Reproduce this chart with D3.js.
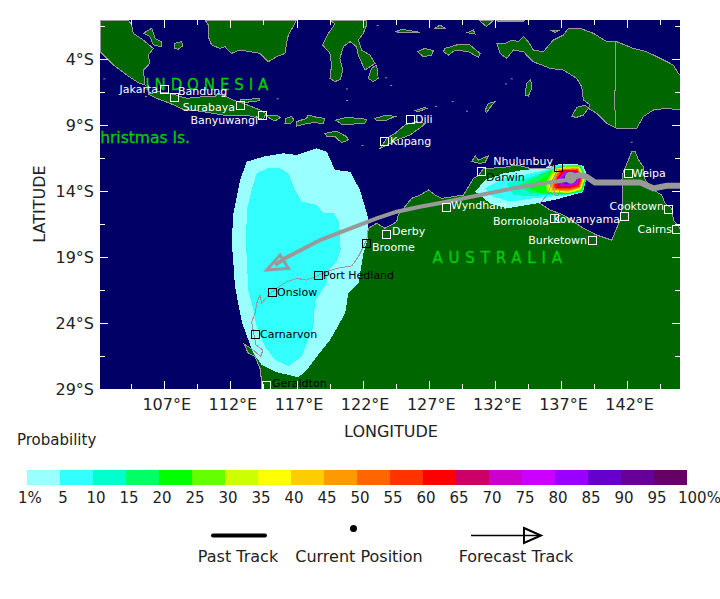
<!DOCTYPE html>
<html>
<head>
<meta charset="utf-8">
<script src="https://cdn.jsdelivr.net/npm/d3@7"></script>
<style>
  html, body { margin: 0; padding: 0; background: #fff; }
  svg { display: block; font-family: "DejaVu Sans", sans-serif; }
</style>
</head>
<body>
<svg id="chart" width="720" height="599"></svg>
<script>
// legend
var legendLabels = ["1%", "5", "10", "15", "20", "25", "30", "35", "40", "45", "50", "55", "60", "65", "70", "75", "80", "85", "90", "95", "100%"];
var legendColors = ["#99ffff", "#33ffff", "#00ffcc", "#00ff66", "#00ff00", "#66ff00", "#ccff00", "#ffff00", "#ffcc00", "#ff9900", "#ff6600", "#ff3300", "#ff0000", "#cc0066", "#cc00cc", "#cc00ff", "#9900ff", "#6600cc", "#660099", "#660066"];

// axis ticks
var lonMajor = [107, 112, 117, 122, 127, 132, 137, 142];
var lonMinor = [104.5, 109.5, 114.5, 119.5, 124.5, 129.5, 134.5, 139.5, 144.5];
var latMajor = [-4, -9, -14, -19, -24, -29];
var latMinor = [-1.5, -6.5, -11.5, -16.5, -21.5, -26.5];

// land, all as [lon, lat]
var sumatra = [[102.14,-1.05],[104.28,-1.05],[104.53,-1.43],[104.66,-2.06],[105.42,-2.57],[106.17,-3.2],[105.79,-3.7],[105.92,-4.33],[105.42,-4.84],[105.54,-5.97],[105.04,-5.8],[104.16,-5.21],[103.15,-4.46],[102.14,-3.45]];
var bangka = [[105.42,-2.06],[106.05,-1.68],[106.3,-2.44],[106.8,-2.69],[106.8,-3.07],[106.17,-2.94],[105.92,-2.31]];
var belitung = [[107.81,-2.82],[108.31,-2.69],[108.39,-3.02],[108.06,-3.27],[107.81,-3.2]];
var borneo = [[110.08,-1.05],[110.33,-1.43],[110.33,-2.31],[110.58,-2.94],[111.21,-3.2],[111.59,-3.07],[112.09,-3.58],[112.72,-3.32],[113.48,-3.45],[114.24,-3.58],[114.87,-4.21],[115.5,-3.83],[116.13,-3.58],[116.25,-2.82],[116.38,-2.19],[116.88,-1.3],[117.01,-1.05]];
var sulawesi = [[119.53,-1.05],[119.91,-1.35],[119.33,-2.19],[118.97,-2.94],[119.53,-3.58],[119.65,-4.46],[119.53,-5.47],[119.91,-5.72],[120.33,-5.54],[120.49,-4.84],[120.28,-3.95],[120.54,-3.07],[121.04,-2.69],[121.54,-3.07],[121.67,-3.7],[122.17,-4.84],[122.93,-4.33],[122.55,-3.7],[121.92,-3.32],[121.67,-2.57],[122.05,-2.06],[122.3,-1.43],[122.3,-1.05]];
var buton = [[122.68,-4.71],[123.06,-4.46],[123.18,-5.47],[122.8,-5.72],[122.43,-5.47]];
var java = [[105.79,-6.66],[106.55,-6.48],[107.43,-6.6],[108.69,-6.98],[109.95,-6.86],[110.83,-6.86],[111.09,-6.6],[112.22,-7.11],[112.98,-7.36],[114.24,-7.87],[114.69,-8.12],[114.49,-8.57],[113.23,-8.25],[111.46,-8.25],[109.95,-7.99],[108.44,-7.82],[107.43,-7.36],[106.42,-6.98]];
var madura = [[112.72,-7.11],[114.24,-6.98],[114.19,-7.16],[112.98,-7.31]];
var bali = [[114.74,-8.32],[115.5,-8.25],[115.8,-8.42],[115.37,-8.7],[114.99,-8.5]];
var lombok = [[116.2,-8.5],[116.63,-8.37],[116.81,-8.63],[116.5,-8.93],[116.13,-8.88]];
var sumbawa = [[117.01,-8.75],[117.76,-8.5],[117.89,-8.25],[118.52,-8.42],[119.15,-8.5],[119.02,-8.88],[118.27,-8.83],[117.64,-8.93],[117.01,-9.08]];
var flores = [[119.96,-8.63],[120.79,-8.42],[122.3,-8.57],[122.17,-8.88],[121.29,-8.93],[120.41,-8.95]];
var alor = [[122.93,-8.5],[123.81,-8.25],[124.44,-8.37],[123.81,-8.63],[123.06,-8.68]];
var sumba = [[119.15,-9.64],[120.03,-9.46],[120.79,-9.89],[120.91,-10.14],[120.41,-10.34],[119.91,-9.89],[119.28,-9.84]];
var timor = [[123.32,-10.77],[123.82,-10.01],[124.45,-9.64],[125.21,-9.0],[126.09,-8.75],[126.72,-8.88],[126.47,-9.13],[125.59,-9.76],[124.58,-10.14],[123.82,-10.52]];
var wetar = [[125.97,-7.92],[126.72,-7.67],[126.85,-7.74],[126.22,-7.99]];
var seram = [[128.23,-3.2],[129.12,-2.94],[130.12,-2.94],[130.88,-3.58],[130.75,-3.88],[130,-3.45],[128.99,-3.32],[128.49,-3.7],[128.11,-3.45]];
var buru = [[126.14,-3.45],[126.72,-3.2],[127.35,-3.37],[127.23,-3.7],[126.6,-3.83]];
var sula = [[124.45,-1.93],[124.96,-1.76],[126.34,-1.98],[124.96,-2.01]];
var obi = [[127.48,-1.68],[127.86,-1.43],[128.23,-1.68]];
var misool = [[129.92,-2.01],[130.38,-1.81],[130.5,-2.11]];
var waigeo = [[130.8,-1.05],[131.89,-1.05],[131.38,-1.55],[131.13,-1.35]];
var biak = [[136.17,-1.81],[136.93,-1.81],[136.55,-1.98]];
var manokwari = [[132.14,-1.05],[134.28,-1.05],[134.16,-1.15],[132.19,-1.15]];
var newGuinea = [[132.14,-2.82],[132.77,-2.82],[133.27,-2.57],[133.78,-2.69],[134.16,-2.31],[134.53,-2.69],[134.91,-3.32],[135.67,-3.45],[136.42,-2.57],[137.18,-2.19],[137.56,-1.68],[138.44,-1.68],[139.45,-2.06],[140.46,-2.69],[141.21,-2.69],[142.47,-3.2],[143.48,-3.45],[144.49,-3.95],[145.5,-4.46],[145.87,-5.09],[146,-5.22],[146,-7.87],[144.99,-7.74],[143.98,-7.87],[143.23,-8.37],[142.72,-9.26],[141.21,-9.26],[140.46,-8.88],[139.7,-8.12],[139.07,-7.74],[139.2,-7.49],[138.69,-7.11],[138.57,-6.1],[138.19,-5.47],[137.18,-4.84],[136.17,-4.71],[134.91,-4.21],[134.16,-3.45],[133.4,-3.32],[132.9,-3.95],[132.39,-3.58]];
var dolak = [[137.81,-8.37],[138.19,-7.67],[138.82,-7.49],[139.07,-7.74],[138.69,-8.25],[138.19,-8.42]];
var aru = [[134.28,-6.73],[134.41,-5.85],[134.71,-5.54],[134.79,-6.23],[134.53,-6.81]];
var tanimbar = [[131.26,-7.92],[131.51,-7.36],[132.01,-7.24],[131.64,-7.67],[131.38,-8.07]];
var tiwi = [[130.26,-11.78],[130.51,-11.33],[130.76,-11.66],[131.52,-11.33],[131.26,-11.83],[130.89,-11.91]];
var groote = [[136.43,-13.8],[136.93,-13.93],[136.81,-14.31],[136.55,-14.31]];
var australia = [[114.37,-29.1],[114.29,-27.56],[113.87,-26.55],[113.36,-26.3],[113.03,-25.59],[113.74,-26.05],[114.29,-26.55],[114.45,-26.05],[113.94,-25.67],[113.74,-24.66],[113.61,-23.9],[113.87,-23.27],[113.99,-22.51],[114.24,-21.88],[114.37,-22.51],[114.87,-21.88],[115.5,-21.38],[116.26,-20.87],[117.02,-20.62],[117.77,-20.75],[118.4,-20.5],[119.28,-20.11],[120.04,-19.86],[121.17,-19.68],[121.68,-18.98],[122.06,-18.22],[122.31,-17.72],[122.43,-16.83],[123.06,-16.45],[123.69,-16.83],[124.58,-16.33],[124.7,-15.82],[125.2,-15.19],[125.71,-14.56],[126.35,-14.31],[126.98,-13.93],[127.48,-14.31],[127.99,-14.56],[129.63,-14.31],[130,-13.68],[130.38,-13.05],[130.76,-12.84],[131.14,-12.29],[132.52,-12.24],[133.66,-12.03],[134.66,-12.29],[136.18,-12.29],[136.55,-12.03],[136.68,-12.54],[136.3,-13.3],[136.05,-14.18],[135.42,-14.94],[136.18,-15.44],[137.18,-15.82],[138.7,-16.83],[139.7,-17.34],[140.84,-17.72],[141.47,-16.2],[141.67,-14.69],[141.6,-13.17],[141.67,-12.67],[142.1,-11.65],[142.35,-11.02],[142.61,-11.02],[142.86,-11.65],[143.24,-12.16],[143.36,-13.17],[143.99,-13.93],[144.62,-14.31],[144.87,-14.94],[145.38,-15.32],[145.5,-16.2],[146,-16.83],[146,-29.1]];
var landShapes = [sumatra, bangka, belitung, borneo, sulawesi, buton, java, madura, bali, lombok, sumbawa, flores, alor, sumba, timor, wetar, seram, buru, sula, obi, misool, waigeo, biak, manokwari, newGuinea, dolak, aru, tanimbar, tiwi, groote, australia];
var pngBorder = [[141.14,-2.69],[141.14,-6.35],[141.01,-6.48],[141.16,-9.26]];
var islets = [[102.39,-5.47],[105.54,-6.81],[115.5,-6.98],[120.74,-6.23],[120.74,-7.11],[121.92,-10.52],[123.06,-1.43],[124.57,-1.93],[123.7,-5.39],[124.08,-5.97],[128.74,-7.19],[129.82,-7.92],[127.48,-7.56],[142.27,-10.27],[132.77,-5.85],[133.2,-5.47]];

// probability areas, lowest level first
var west1 = [[118.53,-10.77],[119.28,-11.02],[119.91,-12.41],[121.05,-12.54],[121.8,-13.93],[122.43,-16.07],[122.43,-17.46],[122.06,-18.73],[121.68,-21],[120.92,-21.76],[120.67,-23.27],[119.54,-25.29],[118.53,-26.55],[117.77,-27.56],[117.14,-28.12],[115.38,-27.69],[114.37,-27.18],[113.74,-26.3],[113.36,-25.29],[112.86,-23.9],[112.35,-21.25],[112.1,-17.72],[112.23,-15.7],[112.73,-13.17],[113.24,-11.78],[114.5,-11.4],[116.01,-11.15],[117.02,-11.28]];
var west5 = [[115.76,-12.29],[116.39,-12.67],[116.89,-13.93],[117.39,-14.81],[118.53,-15.06],[119.03,-15.7],[119.79,-15.64],[120.22,-16.33],[120.34,-18.47],[120.04,-19.36],[119.33,-20.11],[119.28,-21],[118.4,-22.39],[118.28,-24.28],[117.39,-26.55],[116.39,-27.26],[115.38,-26.81],[114.62,-25.8],[113.99,-24.28],[113.74,-23.02],[113.36,-21.5],[113.19,-18.22],[113.24,-15.44],[113.61,-13.93],[113.99,-12.67],[114.75,-12.29]];
var east1 = [[130.51,-14.05],[131.26,-13.17],[132.65,-12.67],[134.16,-12.41],[135.67,-12.29],[136.68,-12],[137.94,-11.92],[138.7,-12.1],[139,-12.9],[138.82,-13.42],[138.6,-14.1],[137.44,-14.43],[136.43,-14.69],[135.17,-14.94],[132.9,-15.32],[131.64,-14.94]];
var east5 = [[131.26,-13.8],[132.65,-13.04],[134.16,-12.79],[135.67,-12.45],[136.68,-12.05],[137.94,-12],[138.6,-12.1],[138.94,-13],[138.66,-14.1],[137.18,-14.36],[136.18,-14.43],[134.92,-14.56],[133.15,-14.81],[131.89,-14.43]];
var east10 = [[132.9,-13.42],[134.41,-13.04],[135.67,-12.6],[136.81,-12.12],[137.94,-12.04],[138.52,-12.05],[138.92,-13],[138.62,-14.06],[137.06,-14.3],[136.05,-14.31],[134.66,-14.38],[133.4,-14.31]];
var east15 = [[133.78,-13.55],[134.92,-13.04],[135.92,-12.5],[137,-12.15],[138,-12.07],[138.48,-12.07],[138.9,-13],[138.58,-14.02],[137.57,-14.26],[135.92,-14.25],[134.66,-14.13]];
var east20 = [[134.4,-13.5],[135.4,-13.2],[136.31,-12.45],[137.44,-12.1],[138.44,-12.1],[138.88,-13],[138.55,-13.98],[137.57,-14.22],[136.56,-14.25],[135.5,-14.15],[134.8,-13.95]];
var east25 = [[135.8,-13.43],[136.43,-12.31],[137.44,-12.13],[138.4,-12.13],[138.86,-13],[138.52,-13.94],[137.57,-14.18],[135.95,-14.1]];
var east30 = [[135.95,-13.43],[136.56,-12.33],[137.44,-12.16],[138.36,-12.16],[138.83,-13],[138.5,-13.9],[137.57,-14.14],[136.05,-14.06]];
var east35 = [[136.05,-13.43],[136.66,-12.35],[137.44,-12.19],[138.33,-12.19],[138.78,-13],[138.47,-13.85],[137.57,-14.1],[136.16,-14.02]];
var east40 = [[136.16,-13.43],[136.73,-12.37],[137.44,-12.21],[138.3,-12.21],[138.72,-13],[138.45,-13.81],[137.57,-14.06],[136.26,-13.98]];
var east45 = [[136.26,-13.43],[136.81,-12.37],[138.27,-12.26],[138.67,-13],[138.42,-13.75],[137.57,-14.01],[136.31,-13.93]];
var east50 = [[136.36,-13.4],[136.91,-12.39],[138.25,-12.32],[138.62,-13],[138.4,-13.7],[137.57,-13.96],[136.41,-13.88]];
var east55 = [[136.46,-13.35],[137.01,-12.42],[138.22,-12.37],[138.57,-13],[138.37,-13.65],[137.57,-13.88],[136.51,-13.81]];
var east60 = [[136.56,-13.3],[137.11,-12.44],[138.2,-12.42],[138.52,-13],[138.32,-13.6],[137.57,-13.81],[136.61,-13.75]];
var east65 = [[136.71,-13.1],[137.21,-12.49],[138.17,-12.49],[138.47,-13],[138.27,-13.55],[137.57,-13.7],[136.81,-13.65]];
var east70 = [[136.81,-13.05],[137.26,-12.54],[138.15,-12.54],[138.42,-13],[138.22,-13.5],[137.57,-13.65],[136.91,-13.6]];
var east75 = [[136.91,-13],[137.31,-12.59],[138.12,-12.59],[138.37,-13],[138.17,-13.45],[137.57,-13.6],[137.01,-13.55]];
var east80 = [[137.01,-13],[137.36,-12.64],[138.07,-12.64],[138.32,-13],[138.12,-13.4],[137.57,-13.55],[137.11,-13.5]];
var east85 = [[137.11,-13],[137.44,-12.69],[138.02,-12.69],[138.27,-13],[138.07,-13.35],[137.57,-13.5],[137.19,-13.43]];
// second number is the index into legendColors
var probAreas = [[west1, 0], [west5, 1], [east1, 0], [east5, 1], [east10, 2], [east15, 3], [east20, 4], [east25, 5], [east30, 6], [east35, 7], [east40, 8], [east45, 9], [east50, 10], [east55, 11], [east60, 12], [east65, 13], [east70, 14], [east75, 15], [east80, 16], [east85, 17]];

// tracks
var currentPos = [137.74, -13.0];
var pastTrack = [[137.74,-13],[138.4,-12.8],[138.94,-12.92],[139.57,-13.35],[141.72,-13.35],[142.98,-13.35],[143.98,-13.8],[144.99,-13.6],[146.2,-13.6]];
var forecastTrack = [[137.74,-13],[137.43,-13.17],[135.67,-13.42],[133.4,-13.8],[130.88,-14.31],[127.98,-14.89],[126.34,-15.19],[124.58,-15.57],[123.06,-16.07],[118.78,-17.72],[116.13,-19.1],[115.38,-19.61]];
var forecastHead = [[114.75,-19.99],[115.76,-18.85],[116.39,-19.86]];

// towns
var cityNames = ["Jakarta", "Bandung", "Surabaya", "Banyuwangi", "Dili", "Kupang", "Nhulunbuy", "Darwin", "Wyndham", "Weipa", "Cooktown", "Kowanyama", "Borroloola", "Burketown", "Cairns", "Broome", "Derby", "Port Hedland", "Onslow", "Carnarvon", "Geraldton"];
var cityLons = [106.97, 107.7, 112.75, 114.39, 125.61, 123.61, 136.78, 130.92, 128.29, 142.08, 145.1, 141.78, 136.48, 139.35, 145.71, 122.26, 123.77, 118.65, 115.11, 113.83, 114.7];
var cityLats = [-6.25, -6.92, -7.47, -8.25, -8.55, -10.22, -12.19, -12.49, -15.22, -12.64, -15.37, -15.86, -16.05, -17.72, -16.88, -17.97, -17.26, -20.37, -21.66, -24.84, -28.7];

var svg = d3.select("#chart");
var plot = {left: 100, right: 680, top: 20, bottom: 389};

var x = d3.scaleLinear().domain([102.14, 146]).range([plot.left, plot.right]);
var y = d3.scaleLinear().domain([-1.05, -29]).range([plot.top, plot.bottom]);
var geoLine = d3.line().x(d => x(d[0])).y(d => y(d[1]));
var ringPath = pts => geoLine(pts) + "Z";

svg.append("defs").append("clipPath").attr("id", "plotClip")
  .append("rect")
  .attr("x", plot.left).attr("y", plot.top)
  .attr("width", plot.right - plot.left).attr("height", plot.bottom - plot.top);

var map = svg.append("g").attr("clip-path", "url(#plotClip)");
map.append("rect")
  .attr("x", plot.left).attr("y", plot.top)
  .attr("width", plot.right - plot.left).attr("height", plot.bottom - plot.top)
  .attr("fill", "#000066");

map.selectAll(".land").data(landShapes).enter().append("path")
  .attr("d", ringPath).attr("fill", "#006600").attr("shape-rendering", "crispEdges");

map.selectAll(".prob").data(probAreas).enter().append("path")
  .attr("d", d => ringPath(d[0])).attr("fill", d => legendColors[d[1]])
  .attr("shape-rendering", "crispEdges");

// coast goes over the probability areas
map.selectAll(".coast").data(landShapes).enter().append("path")
  .attr("d", ringPath).attr("fill", "none").attr("stroke", "#999999").attr("stroke-width", 1)
  .attr("shape-rendering", "crispEdges");
map.append("path").attr("d", geoLine(pngBorder)).attr("fill", "none")
  .attr("stroke", "#999999").attr("shape-rendering", "crispEdges");
map.selectAll(".islet").data(islets).enter().append("rect")
  .attr("x", d => x(d[0])).attr("y", d => y(d[1])).attr("width", 2).attr("height", 1)
  .attr("fill", "#999999");

// tracks
map.append("path").attr("d", geoLine(forecastTrack)).attr("fill", "none")
  .attr("stroke", "#999999").attr("stroke-width", 4);
map.append("path").attr("d", ringPath(forecastHead)).attr("fill", "none")
  .attr("stroke", "#999999").attr("stroke-width", 3);
map.append("path").attr("d", geoLine(pastTrack)).attr("fill", "none")
  .attr("stroke", "#999999").attr("stroke-width", 6);
map.append("circle").attr("cx", x(currentPos[0])).attr("cy", y(currentPos[1])).attr("r", 6)
  .attr("fill", "#999999");

// big green names
var bigNames = map.append("g").attr("fill", "#00cc00").attr("stroke", "#00cc00").attr("stroke-width", 0.3);
bigNames.append("text").attr("x", x(110.4)).attr("y", y(-6.35))
  .attr("font-size", 15).attr("letter-spacing", 4.9).attr("text-anchor", "middle").text("INDONESIA");
bigNames.append("text").attr("x", x(132.4)).attr("y", y(-19.46))
  .attr("font-size", 15).attr("letter-spacing", 5.8).attr("text-anchor", "middle").text("AUSTRALIA");
bigNames.append("text").attr("x", 190).attr("y", 143)
  .attr("font-size", 15.5).attr("text-anchor", "end").text("Christmas Is.");

// towns: [dx, dy, anchor, colour of label, colour of box]
var townStyle = {
  "Jakarta": [-6, 0, "end", "#fff", "#fff"],
  "Bandung": [4, -6, "start", "#fff", "#fff"],
  "Surabaya": [-5, 2, "end", "#fff", "#fff"],
  "Banyuwangi": [-4, 5, "end", "#fff", "#fff"],
  "Dili": [5, 0, "start", "#fff", "#fff"],
  "Kupang": [6, 0, "start", "#fff", "#fff"],
  "Nhulunbuy": [-5, -6, "end", "#fff", "#000"],
  "Darwin": [5, 6, "start", "#000", "#fff"],
  "Wyndham": [5, -2, "start", "#fff", "#fff"],
  "Weipa": [4, 0, "start", "#fff", "#fff"],
  "Cooktown": [-4, -3, "end", "#fff", "#fff"],
  "Kowanyama": [-4, 3, "end", "#fff", "#fff"],
  "Borroloola": [-5, 3, "end", "#fff", "#fff"],
  "Burketown": [-5, 0, "end", "#fff", "#fff"],
  "Cairns": [-4, 0, "end", "#fff", "#fff"],
  "Broome": [6, 4, "start", "#fff", "#000"],
  "Derby": [6, -3, "start", "#fff", "#fff"],
  "Port Hedland": [5, 0, "start", "#000", "#000"],
  "Onslow": [5, 0, "start", "#000", "#000"],
  "Carnarvon": [5, 0, "start", "#000", "#000"],
  "Geraldton": [6, -2, "start", "#000", "#fff"]
};

var towns = map.selectAll(".town").data(cityNames).enter().append("g")
  .attr("transform", (d, i) => "translate(" + Math.round(x(cityLons[i])) + "," + Math.round(y(cityLats[i])) + ")");
towns.append("rect")
  .attr("x", -4).attr("y", -4).attr("width", 8).attr("height", 8)
  .attr("fill", "none").attr("stroke", d => townStyle[d][4]).attr("stroke-width", 1)
  .attr("shape-rendering", "crispEdges");
towns.append("text")
  .attr("x", d => townStyle[d][0]).attr("y", d => townStyle[d][1])
  .attr("dy", "0.36em").attr("font-size", 11)
  .attr("text-anchor", d => townStyle[d][2]).attr("fill", d => townStyle[d][3])
  .text(d => d);

// axes: white ticks pointing into the map, labels outside
function styleTicks(g) {
  g.select(".domain").remove();
  g.selectAll(".tick line").attr("stroke", "#fff").attr("stroke-width", 1).attr("shape-rendering", "crispEdges");
  g.selectAll(".tick text").attr("fill", "#222").attr("font-size", 16).attr("font-family", "DejaVu Sans");
}
var lonFmt = d => d + "°E";
var latFmt = d => Math.abs(d) + "°S";

svg.append("g").attr("transform", "translate(0," + plot.bottom + ")")
  .call(d3.axisBottom(x).tickValues(lonMajor).tickSize(-8).tickPadding(10).tickFormat(lonFmt))
  .call(styleTicks).selectAll(".tick text").attr("dx", 2);
svg.append("g").attr("transform", "translate(0," + plot.bottom + ")")
  .call(d3.axisBottom(x).tickValues(lonMinor).tickSize(-5).tickFormat("")).call(styleTicks);
svg.append("g").attr("transform", "translate(0," + plot.top + ")")
  .call(d3.axisTop(x).tickValues(lonMajor).tickSize(-8).tickFormat("")).call(styleTicks);
svg.append("g").attr("transform", "translate(0," + plot.top + ")")
  .call(d3.axisTop(x).tickValues(lonMinor).tickSize(-5).tickFormat("")).call(styleTicks);
svg.append("g").attr("transform", "translate(" + plot.left + ",0)")
  .call(d3.axisLeft(y).tickValues(latMajor).tickSize(-8).tickPadding(6).tickFormat(latFmt)).call(styleTicks);
svg.append("g").attr("transform", "translate(" + plot.left + ",0)")
  .call(d3.axisLeft(y).tickValues(latMinor).tickSize(-5).tickFormat("")).call(styleTicks);
svg.append("g").attr("transform", "translate(" + plot.right + ",0)")
  .call(d3.axisRight(y).tickValues(latMajor).tickSize(-8).tickFormat("")).call(styleTicks);
svg.append("g").attr("transform", "translate(" + plot.right + ",0)")
  .call(d3.axisRight(y).tickValues(latMinor).tickSize(-5).tickFormat("")).call(styleTicks);

svg.append("text").attr("x", 391).attr("y", 437).attr("text-anchor", "middle")
  .attr("font-size", 16).attr("fill", "#222").text("LONGITUDE");
svg.append("text").attr("transform", "translate(45,204) rotate(-90)").attr("text-anchor", "middle")
  .attr("font-size", 16).attr("fill", "#222").text("LATITUDE");

// colour bar
var bar = d3.scaleLinear().domain([0, legendColors.length]).range([27, 687]);
svg.append("text").attr("x", 17).attr("y", 445).attr("font-size", 15).attr("fill", "#222").text("Probability");
svg.selectAll(".cell").data(legendColors).enter().append("rect")
  .attr("x", (d, i) => bar(i)).attr("y", 470)
  .attr("width", bar(1) - bar(0)).attr("height", 15)
  .attr("fill", d => d).attr("shape-rendering", "crispEdges");
svg.selectAll(".barLabel").data(legendLabels).enter().append("text")
  .attr("x", (d, i) => (d.endsWith("%") ? bar(i) - 9 : bar(i) + 3))
  .attr("y", 503)
  .attr("text-anchor", d => (d.endsWith("%") ? "start" : "middle"))
  .attr("font-size", 15).attr("fill", "#222").text(d => d);

// track key
svg.append("line").attr("x1", 213).attr("x2", 265).attr("y1", 535.5).attr("y2", 535.5)
  .attr("stroke", "#000").attr("stroke-width", 4).attr("stroke-linecap", "round");
svg.append("circle").attr("cx", 353.5).attr("cy", 528.5).attr("r", 3.5).attr("fill", "#000");
svg.append("line").attr("x1", 471).attr("x2", 540).attr("y1", 535.5).attr("y2", 535.5)
  .attr("stroke", "#000").attr("stroke-width", 1.5);
svg.append("path").attr("d", "M524,528L541,535.5L524,543Z").attr("fill", "none")
  .attr("stroke", "#000").attr("stroke-width", 2);

var keyText = [["Past Track", 238], ["Current Position", 359], ["Forecast Track", 516]];
svg.selectAll(".key").data(keyText).enter().append("text")
  .attr("x", d => d[1]).attr("y", 562).attr("text-anchor", "middle")
  .attr("font-size", 16).attr("fill", "#222").text(d => d[0]);
</script>
</body>
</html>
